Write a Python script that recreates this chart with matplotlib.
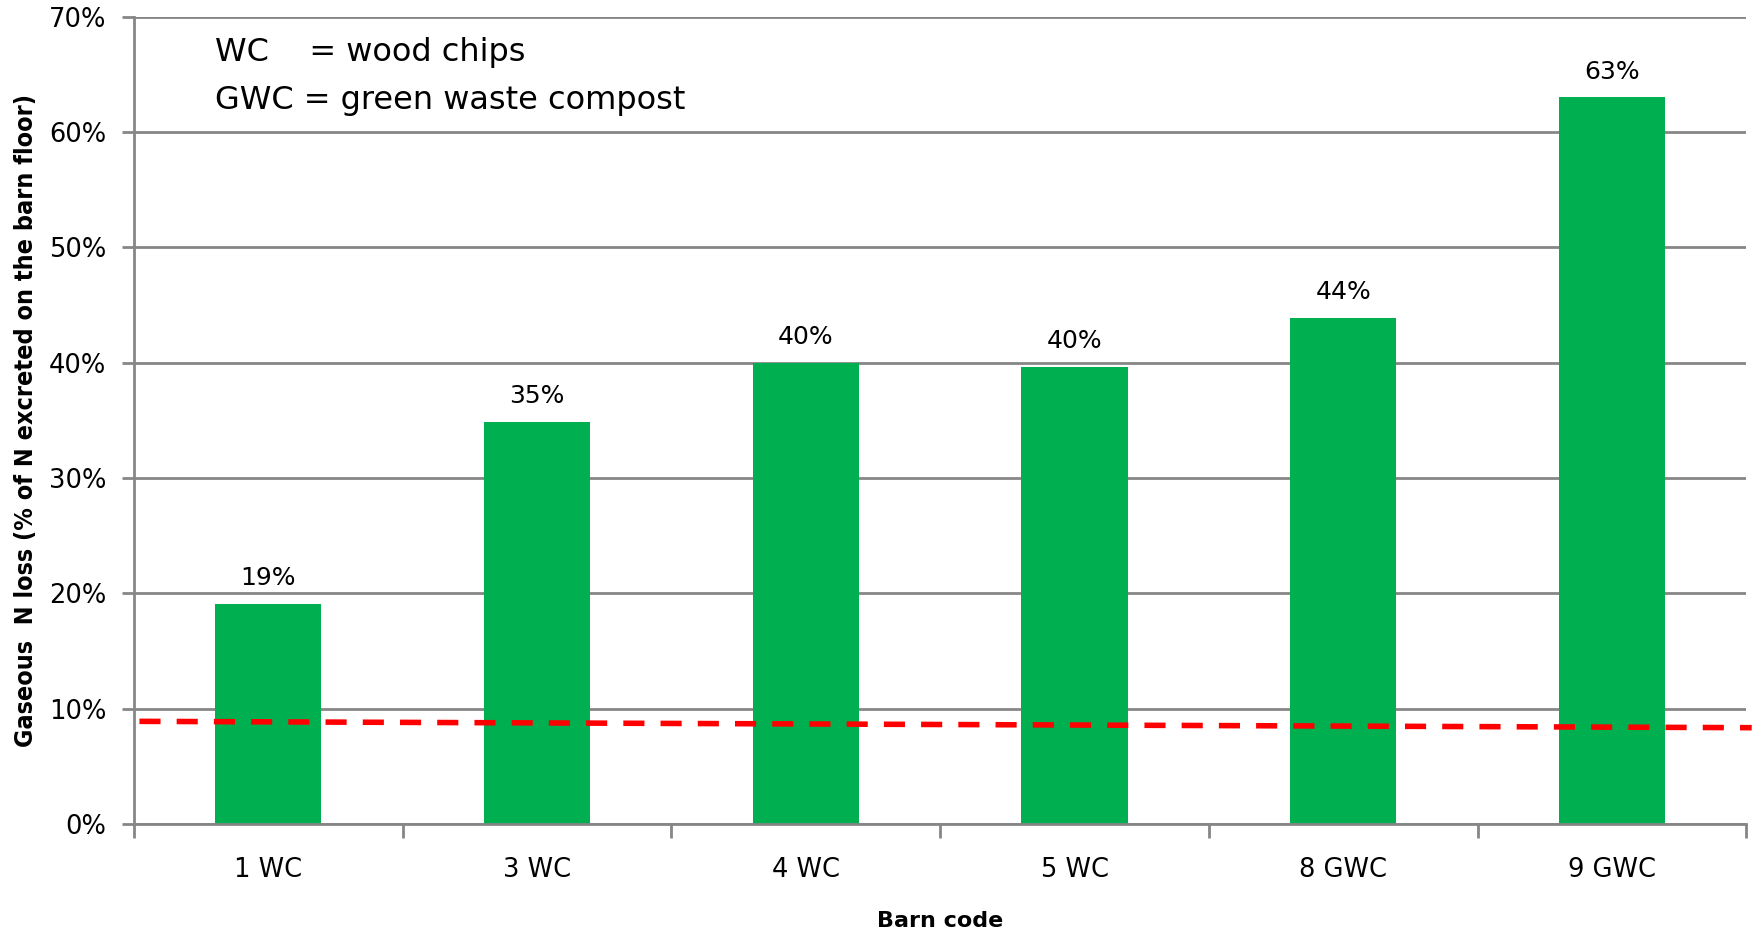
import matplotlib.pyplot as plt
from matplotlib.ticker import PercentFormatter

# --- data ---
barns = ["1 WC", "3 WC", "4 WC", "5 WC", "8 GWC", "9 GWC"]
n_loss = [19.1, 34.9, 40.0, 39.6, 43.9, 63.0]
n_labels = ["19%", "35%", "40%", "40%", "44%", "63%"]
# red dashed reference line (start / end value)
ref_x = [-0.48, 5.52]
ref_y = [8.9, 8.35]

grey = "#868686"

fig = plt.figure(figsize=(17.64, 9.30), dpi=100)
ax = fig.add_axes([0.076, 0.114, 0.914, 0.868])

x = range(len(barns))
ax.bar(x, n_loss, width=0.395, color="#00B050", zorder=2)
for xi, v, lab in zip(x, n_loss, n_labels):
    ax.text(xi, v + 1.2, lab, ha="center", va="bottom", fontsize=18)

# reference line runs a bit past the right axis
ax.plot(ref_x, ref_y, color="#FF0000", lw=4, dashes=(3.8, 2.9), zorder=3, clip_on=False)

ax.set_xlim(-0.5, 5.5)
ax.set_ylim(0, 70)
ax.set_yticks(range(0, 71, 10))
ax.yaxis.set_major_formatter(PercentFormatter(decimals=0))
ax.grid(axis="y", color=grey, lw=2, zorder=0)

# tick marks between categories, labels under the bars
ax.set_xticks([i - 0.5 for i in range(len(barns) + 1)])
ax.set_xticklabels([])
ax.set_xticks(list(x), minor=True)
ax.set_xticklabels(barns, minor=True, fontsize=18.5)
ax.tick_params(axis="x", which="major", length=10, width=2, color=grey)
ax.tick_params(axis="x", which="minor", length=0, pad=24)
ax.tick_params(axis="y", length=9, width=2, color=grey, labelsize=18.5, pad=11)

for side in ["top", "right"]:
    ax.spines[side].set_visible(False)
for side in ["left", "bottom"]:
    ax.spines[side].set_color(grey)
    ax.spines[side].set_linewidth(2)

ax.set_xlabel("Barn code", fontsize=16, fontweight="bold", labelpad=20)
ax.set_ylabel("Gaseous  N loss (% of N excreted on the barn floor)",
              fontsize=18, fontweight="bold", fontstretch="condensed", labelpad=8)

ax.text(0.05, 0.975, "WC    = wood chips", transform=ax.transAxes, fontsize=23, va="top")
ax.text(0.05, 0.915, "GWC = green waste compost", transform=ax.transAxes, fontsize=23, va="top")

fig.savefig("out.png", dpi=100)
